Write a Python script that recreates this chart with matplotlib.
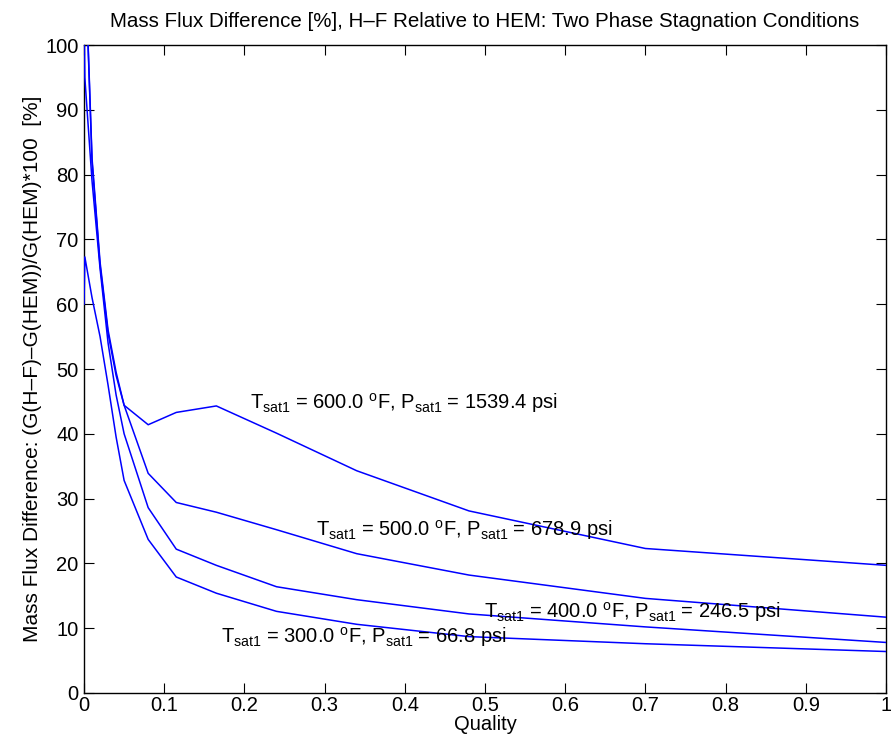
import numpy as np
import matplotlib
matplotlib.use('Agg')
import matplotlib.pyplot as plt

plt.rcParams['font.family'] = ['Liberation Sans', 'DejaVu Sans']
plt.rcParams['mathtext.fontset'] = 'custom'
plt.rcParams['mathtext.rm'] = 'Liberation Sans'
plt.rcParams['mathtext.it'] = 'Liberation Sans'

# quality samples and mass flux difference [%] for each stagnation temperature
q_300 = [0.0, 0.001, 0.01, 0.02, 0.03, 0.04, 0.05, 0.08, 0.115, 0.165, 0.24, 0.34, 0.48, 0.7, 1.0]
g_300 = [60.0, 67.3, 61.0, 55.0, 47.5, 39.5, 32.8, 23.7, 17.9, 15.4, 12.6, 10.6, 8.7, 7.6, 6.4]

q_400 = [0.0, 0.001, 0.01, 0.02, 0.03, 0.04, 0.05, 0.08, 0.115, 0.165, 0.24, 0.34, 0.48, 0.7, 1.0]
g_400 = [104.0, 95.0, 79.0, 65.5, 54.0, 46.0, 40.0, 28.6, 22.2, 19.7, 16.4, 14.4, 12.2, 10.2, 7.8]

q_500 = [0.0, 0.005, 0.01, 0.02, 0.03, 0.04, 0.05, 0.08, 0.115, 0.165, 0.24, 0.34, 0.48, 0.7, 1.0]
g_500 = [125.0, 100.0, 82.0, 66.0, 55.5, 49.0, 44.4, 33.9, 29.4, 27.9, 25.2, 21.5, 18.2, 14.6, 11.7]

q_600 = [0.0, 0.005, 0.01, 0.02, 0.03, 0.04, 0.05, 0.08, 0.115, 0.165, 0.24, 0.34, 0.48, 0.7, 1.0]
g_600 = [126.0, 100.5, 82.5, 66.5, 56.0, 49.5, 44.4, 41.4, 43.3, 44.3, 40.1, 34.3, 28.1, 22.3, 19.7]

labels = [
    (0.207, 44.8, r'T$_{\mathrm{sat1}}$ = 600.0 $^{\mathrm{o}}$F, P$_{\mathrm{sat1}}$ = 1539.4 psi'),
    (0.289, 25.2, r'T$_{\mathrm{sat1}}$ = 500.0 $^{\mathrm{o}}$F, P$_{\mathrm{sat1}}$ = 678.9 psi'),
    (0.499, 12.5, r'T$_{\mathrm{sat1}}$ = 400.0 $^{\mathrm{o}}$F, P$_{\mathrm{sat1}}$ = 246.5 psi'),
    (0.171, 8.6, r'T$_{\mathrm{sat1}}$ = 300.0 $^{\mathrm{o}}$F, P$_{\mathrm{sat1}}$ = 66.8 psi'),
]

fig = plt.figure(figsize=(8.91, 7.53), dpi=100)
ax = fig.add_axes([0.0943, 0.0797, 0.9001, 0.8605])

for q, g in [(q_300, g_300), (q_400, g_400), (q_500, g_500), (q_600, g_600)]:
    ax.plot(q, g, color=(0, 0, 1), lw=1.1, zorder=3)

for x, y, s in labels:
    ax.text(x, y, s, fontsize=14.5, va='center', ha='left')

ax.set_xlim(0, 1)
ax.set_ylim(0, 100)
ax.set_xticks(np.arange(0, 1.01, 0.1))
ax.set_xticklabels(['0', '0.1', '0.2', '0.3', '0.4', '0.5', '0.6', '0.7', '0.8', '0.9', '1'])
ax.set_yticks(np.arange(0, 101, 10))
ax.tick_params(direction='in', top=True, right=True, length=7, labelsize=14.5)
ax.tick_params(axis='x', pad=2)
ax.tick_params(axis='y', pad=4)
for sp in ax.spines.values():
    sp.set_linewidth(1.0)

ax.set_xlabel('Quality', fontsize=14.5, labelpad=0)
ax.set_ylabel('Mass Flux Difference: (G(H\u2013F)\u2013G(HEM))/G(HEM)*100  [%]', fontsize=15, labelpad=2)
ax.set_title('Mass Flux Difference [%], H\u2013F Relative to HEM: Two Phase Stagnation Conditions',
             fontsize=14.8, pad=13)

fig.savefig('out.png', dpi=100)
